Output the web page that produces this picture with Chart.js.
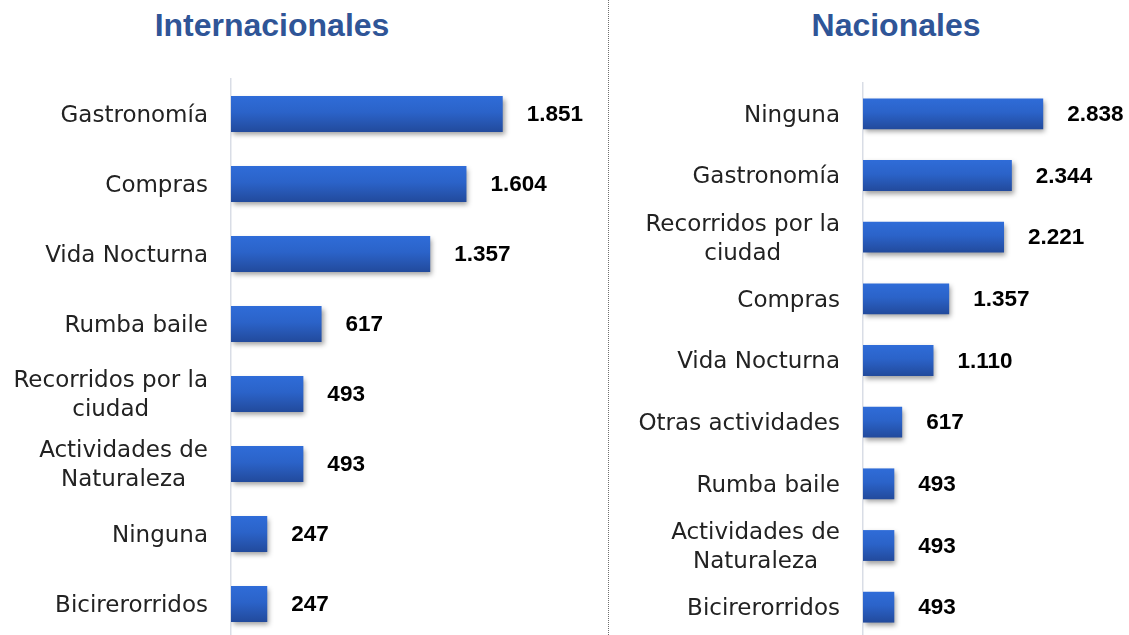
<!DOCTYPE html>
<html>
<head>
<meta charset="utf-8">
<script src="https://cdn.jsdelivr.net/npm/chart.js@4/dist/chart.umd.min.js"></script>
<style>
  html, body { margin: 0; padding: 0; background: #ffffff; }
  #wrap { position: relative; width: 1129px; height: 635px; overflow: hidden; background: #fff; }
  .title { position: absolute; top: 0; height: 50px; line-height: 50px; font-family: "Liberation Sans", Arial, sans-serif; font-weight: bold; font-size: 32px; color: #2F5597; text-align: center; white-space: nowrap; }
  #divider { position: absolute; left: 608px; top: 0; width: 0; height: 635px; border-left: 1px dotted #6f6f6f; }
  canvas { position: absolute; top: 0; }
</style>
</head>
<body>
<div id="wrap">
  <div class="title" style="left:72px; width:400px;">Internacionales</div>
  <div class="title" style="left:696px; width:400px;">Nacionales</div>
  <div id="divider"></div>
  <canvas id="c1" width="609" height="640" style="left:0px;"></canvas>
  <canvas id="c2" width="520" height="640" style="left:609px;"></canvas>
</div>
<script>
// ---- Data ----
const intCategories = ['Gastronomía', 'Compras', 'Vida Nocturna', 'Rumba baile', ['Recorridos por la', 'ciudad'], ['Actividades de', 'Naturaleza'], 'Ninguna', 'Bicirerorridos'];
const intValues = [1851, 1604, 1357, 617, 493, 493, 247, 247];

const nacCategories = ['Ninguna', 'Gastronomía', ['Recorridos por la', 'ciudad'], 'Compras', 'Vida Nocturna', 'Otras actividades', 'Rumba baile', ['Actividades de', 'Naturaleza'], 'Bicirerorridos'];
const nacValues = [2838, 2344, 2221, 1357, 1110, 617, 493, 493, 493];

// ---- Helpers ----
function fmt(v) { return String(v).replace(/\B(?=(\d{3})+(?!\d))/g, '.'); }

const styledBars = {
  id: 'styledBars',
  beforeDatasetsDraw(chart) {
    const ctx = chart.ctx;
    const meta = chart.getDatasetMeta(0);
    meta.data.forEach(el => {
      const h = el.height;
      const g = ctx.createLinearGradient(0, el.y - h / 2, 0, el.y + h / 2);
      g.addColorStop(0, '#2F6CD8');
      g.addColorStop(0.45, '#2B63C9');
      g.addColorStop(1, '#224A9C');
      el.options = Object.assign({}, el.options, { backgroundColor: g });
    });
    ctx.save();
    ctx.shadowColor = 'rgba(0,0,0,0.38)';
    ctx.shadowBlur = 5;
    ctx.shadowOffsetX = 2;
    ctx.shadowOffsetY = 3;
  },
  afterDatasetsDraw(chart) {
    const ctx = chart.ctx;
    ctx.restore();
    // value labels
    const meta = chart.getDatasetMeta(0);
    const vals = chart.data.datasets[0].data;
    ctx.save();
    ctx.font = 'bold 22.5px "Liberation Sans", Arial, sans-serif';
    ctx.fillStyle = '#000000';
    ctx.textAlign = 'left';
    ctx.textBaseline = 'middle';
    meta.data.forEach((el, i) => {
      ctx.fillText(fmt(vals[i]), el.x + 24, el.y + 1);
    });
    ctx.restore();
  },
  afterDraw(chart) {
    // category labels
    const ctx = chart.ctx;
    const ys = chart.scales.y;
    const labels = chart.data.labels;
    const right = chart.chartArea.left - 23;
    ctx.save();
    ctx.font = '23px "DejaVu Sans", sans-serif';
    ctx.fillStyle = '#222222';
    ctx.textBaseline = 'middle';
    labels.forEach((lab, i) => {
      const y = ys.getPixelForValue(i) + 2;
      if (Array.isArray(lab)) {
        const widths = lab.map(s => ctx.measureText(s).width);
        const maxW = Math.max(...widths);
        const cx = right - maxW / 2;
        const lh = 29;
        const y0 = y - (lab.length - 1) * lh / 2;
        ctx.textAlign = 'center';
        lab.forEach((s, k) => ctx.fillText(s, cx, y0 + k * lh));
      } else {
        ctx.textAlign = 'right';
        ctx.fillText(lab, right, y);
      }
    });
    ctx.restore();
  }
};

function makeChart(id, labels, values, axisWidth, xMax, pad, barPct) {
  return new Chart(document.getElementById(id), {
    type: 'bar',
    data: {
      labels: labels,
      datasets: [{
        data: values,
        backgroundColor: '#2B63C9',
        borderWidth: 0,
        barPercentage: barPct,
        categoryPercentage: 1.0
      }]
    },
    options: {
      indexAxis: 'y',
      responsive: false,
      animation: false,
      layout: { padding: pad },
      plugins: { legend: { display: false }, tooltip: { enabled: false }, title: { display: false } },
      scales: {
        x: { display: false, min: 0, max: xMax },
        y: {
          grid: { display: false },
          border: { display: true, color: '#D9DDE6', width: 1.5 },
          ticks: { display: false },
          afterFit(scale) { scale.width = axisWidth; }
        }
      }
    },
    plugins: [styledBars]
  });
}

makeChart('c1', intCategories, intValues, 231, 2500, { top: 79, bottom: 1, left: 0, right: 11 }, 0.515);
makeChart('c2', nacCategories, nacValues, 254, 4000, { top: 83, bottom: 2, left: 0, right: 12 }, 0.5);
</script>
</body>
</html>
